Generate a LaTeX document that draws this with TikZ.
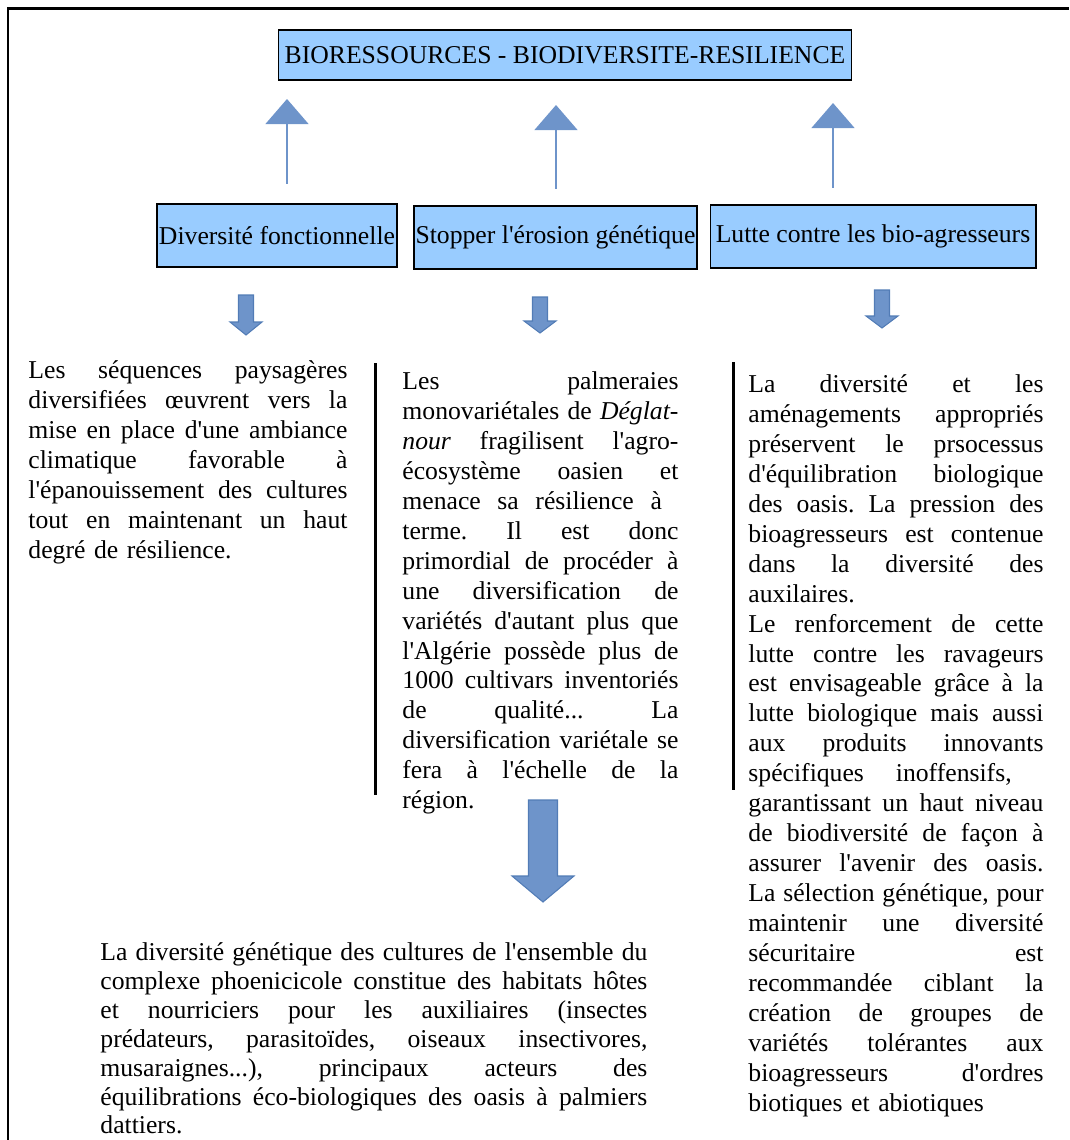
\documentclass[tikz,border=0pt]{standalone}
\usepackage{fontspec}
\newfontfamily\docfont{Liberation Serif}
\usetikzlibrary{arrows.meta}

\definecolor{boxblue}{RGB}{153,204,255}
\definecolor{arrowblue}{RGB}{110,148,202}
\definecolor{arrowedge}{RGB}{82,124,182}

% ligne justifiee sur la largeur du bloc (\lw)
\newcommand{\jl}[1]{\leavevmode\hbox to \lw{\spaceskip=0.25em plus 1fil\relax #1}\\}

% fleche pleine vers le bas : x, y haut, demi-fut, demi-tete, longueur, longueur de tete
\newcommand{\flechebloc}[6]{%
  \filldraw[fleche] ({#1-#3},#2) -- ({#1+#3},#2) -- ({#1+#3},{#2+#5-#6}) -- ({#1+#4},{#2+#5-#6})
    -- (#1,{#2+#5}) -- ({#1-#4},{#2+#5-#6}) -- ({#1-#3},{#2+#5-#6}) -- cycle;}

\begin{document}
\begin{tikzpicture}[
  x=0.4673pt, y=-0.4673pt,
  every node/.style={font=\docfont\fontsize{12}{14}\selectfont\frenchspacing, inner sep=0pt},
  titre/.style={draw=black, line width=0.8pt, fill=boxblue, minimum height=29.4pt},
  bloc/.style={anchor=north west, align=left, text width=#1, execute at begin node={\def\lw{#1}}},
  fleche/.style={draw=arrowedge, fill=arrowblue, line width=0.5pt},
  montee/.style={draw=arrowblue, line width=1pt, -{Triangle[width=20pt,length=11.7pt,fill=arrowblue]}}
]
  \useasboundingbox (0,0) rectangle (1069,1140);

  % ==========================================
  % 1. CADRE
  % ==========================================
  \draw[line width=1.4pt] (8,1140) -- (8,9) -- (1069,9);

  % ==========================================
  % 2. TITRE ET OBJECTIFS
  % ==========================================
  \node[titre, minimum width=267.8pt, minimum height=23.4pt] (bio) at (565,55) {BIORESSOURCES - BIODIVERSITE-RESILIENCE};

  \node[titre, minimum width=112.2pt] (fonc) at (277,235.5) {Diversité fonctionnelle};
  \node[titre, minimum width=132.2pt] (eros) at (555.5,237.5) {Stopper l'érosion génétique};
  \node[titre, minimum width=152.0pt] (lutte) at (873,236.5) {Lutte contre les bio-agresseurs};

  % fleches montantes
  \coordinate (m1) at (287,184);  \coordinate (m1h) at (287,99);
  \coordinate (m2) at (556,189);  \coordinate (m2h) at (556,105);
  \coordinate (m3) at (833,188);  \coordinate (m3h) at (833,103);
  \draw[montee] (m1) -- (m1h);
  \draw[montee] (m2) -- (m2h);
  \draw[montee] (m3) -- (m3h);

  % fleches descendantes
  \flechebloc{246}{295}{7.5}{16}{40}{13}
  \flechebloc{540}{297}{7.5}{16}{36}{12}
  \flechebloc{882}{290}{7.5}{16}{38}{12}

  % ==========================================
  % 3. TEXTES
  % ==========================================
  \node[bloc=149.1pt] (seq) at (28,357) {\strut\jl{Les séquences paysagères}
    \jl{diversifiées œuvrent vers la}
    \jl{mise en place d'une ambiance}
    \jl{climatique favorable à}
    \jl{l'épanouissement des cultures}
    \jl{tout en maintenant un haut}
    degré de résilience.};

  \draw[line width=1.4pt] (375,363) -- (375,795);
  \node[bloc=129pt] (palm) at (402,368) {\strut\jl{Les palmeraies}
    \jl{monovariétales de \textit{Déglat-}}
    \jl{\textit{nour} fragilisent l'agro-}
    \jl{écosystème oasien et}
    \jl{menace sa résilience à\ \null}
    \jl{terme. Il est donc}
    \jl{primordial de procéder à}
    \jl{une diversification de}
    \jl{variétés d'autant plus que}
    \jl{l'Algérie possède plus de}
    \jl{1000 cultivars inventoriés}
    \jl{de qualité... La}
    \jl{diversification variétale se}
    \jl{fera à l'échelle de la}
    région.};

  \draw[line width=1.4pt] (733,362) -- (733,790);
  \node[bloc=137.9pt] (equi) at (748,371) {\strut\jl{La diversité et les}
    \jl{aménagements appropriés}
    \jl{préservent le prsocessus}
    \jl{d'équilibration biologique}
    \jl{des oasis. La pression des}
    \jl{bioagresseurs est contenue}
    \jl{dans la diversité des}
    auxilaires.\\
    \jl{Le renforcement de cette}
    \jl{lutte contre les ravageurs}
    \jl{est envisageable grâce à la}
    \jl{lutte biologique mais aussi}
    \jl{aux produits innovants}
    \jl{spécifiques inoffensifs,\ \null}
    \jl{garantissant un haut niveau}
    \jl{de biodiversité de façon à}
    \jl{assurer l'avenir des oasis.}
    \jl{La sélection génétique, pour}
    \jl{maintenir une diversité}
    \jl{sécuritaire est}
    \jl{recommandée ciblant la}
    \jl{création de groupes de}
    \jl{variétés tolérantes aux}
    \jl{bioagresseurs d'ordres}
    biotiques et abiotiques};

  % grande fleche vers la synthese
  \flechebloc{543}{800}{14.5}{31}{102}{26}

  \node[bloc=255.6pt, font=\docfont\fontsize{12}{13.5}\selectfont\frenchspacing] (gene) at (100,940) {\strut\jl{La diversité génétique des cultures de l'ensemble du}
    \jl{complexe phoenicicole constitue des habitats hôtes}
    \jl{et nourriciers pour les auxiliaires (insectes}
    \jl{prédateurs, parasitoïdes, oiseaux insectivores,}
    \jl{musaraignes...), principaux acteurs des}
    \jl{équilibrations éco-biologiques des oasis à palmiers}
    dattiers.};

\end{tikzpicture}
\end{document}
